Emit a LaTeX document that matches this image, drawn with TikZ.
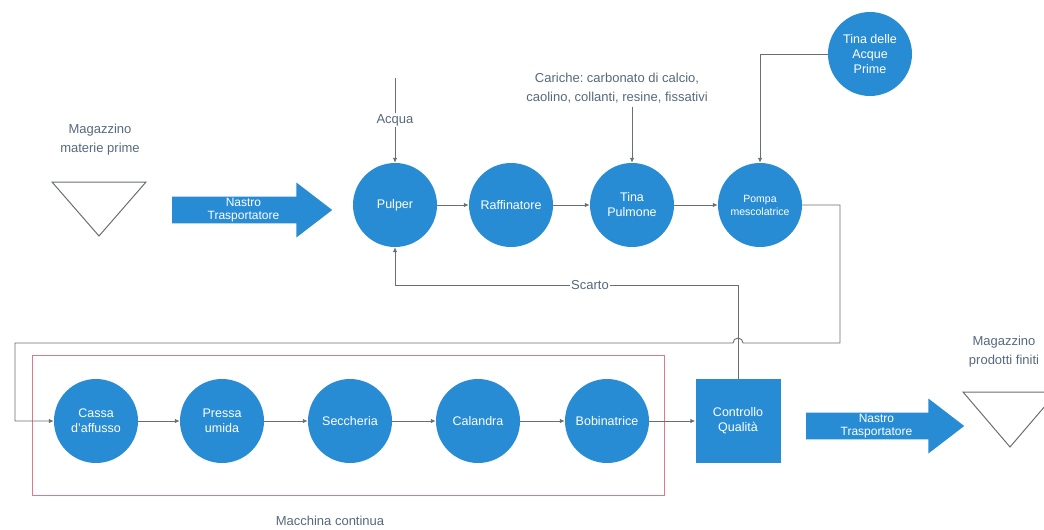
\documentclass[tikz,border=0pt]{standalone}
\usepackage{fontspec}
\setmainfont{Liberation Sans}
\usepackage{tikz}
\usetikzlibrary{
  shapes.geometric, shapes.arrows,
  arrows.meta,
  positioning, calc
}
\definecolor{procblue}{RGB}{40,140,212}
\definecolor{linegray}{RGB}{105,110,112}
\definecolor{labelgray}{RGB}{85,105,125}
\definecolor{framered}{RGB}{222,120,140}
\tikzset{
  procnode/.style={circle,fill=procblue,text=white,minimum size=84pt,inner sep=1pt,align=center,font=\fontsize{12.5}{15}\selectfont},
  smallproc/.style={procnode,font=\fontsize{10.5}{13}\selectfont},
  qcnode/.style={rectangle,fill=procblue,text=white,minimum width=85pt,minimum height=84pt,align=center,font=\fontsize{12.5}{15}\selectfont},
  beltnode/.style={single arrow,fill=procblue,text=white,align=center,minimum width=55pt,minimum height=160pt,
    single arrow head extend=13.5pt,single arrow tip angle=75,inner sep=1pt,font=\fontsize{12}{12.5}\selectfont},
  labelnode/.style={text=labelgray,align=center,font=\fontsize{13}{19}\selectfont},
  onlinelbl/.style={labelnode,fill=white,inner sep=1pt,font=\fontsize{13}{15}\selectfont},
  storeline/.style={draw=linegray,line width=1pt},
  flow/.style={-{Latex[length=5pt,width=4.5pt]},draw=linegray,line width=0.9pt},
  plainline/.style={draw=linegray,line width=0.9pt}
}
\begin{document}
\begin{tikzpicture}[x=1pt,y=-1pt]
  \useasboundingbox (0,0) rectangle (1044,530);

  % linea di preparazione dell'impasto
  \node[procnode] (pulper) at (395,205) {Pulper};
  \node[procnode] (raff) at (511,205) {Raffinatore};
  \node[procnode] (tinap) at (632,205) {Tina\\Pulmone};
  \node[smallproc] (pompa) at (760,205) {Pompa\\mescolatrice};
  \node[procnode] (tinaa) at (870,54) {Tina delle\\Acque\\Prime};

  % macchina continua
  \node[procnode] (cassa) at (96,421) {Cassa\\d'affusso};
  \node[procnode] (pressa) at (222,421) {Pressa\\umida};
  \node[procnode] (secch) at (350,421) {Seccheria};
  \node[procnode] (cal) at (478,421) {Calandra};
  \node[procnode] (bob) at (607,421) {Bobinatrice};
  \node[qcnode] (qc) at (738,421) {Controllo\\Qualità};
  \draw[framered,line width=0.9pt] (32,355) rectangle (664,495);
  \node[labelnode] (mcont) at (330,521) {Macchina continua};

  % magazzini e nastri
  \coordinate (tri1) at (99,182);
  \draw[storeline] ($(tri1)+(-47,0)$) -- ($(tri1)+(47,0)$) -- ($(tri1)+(0,54)$) -- cycle;
  \node[labelnode] (magmp) at (100,140) {Magazzino\\materie prime};
  \coordinate (tri2) at (1010,392);
  \draw[storeline] ($(tri2)+(-47,0)$) -- ($(tri2)+(47,0)$) -- ($(tri2)+(0,55)$) -- cycle;
  \node[labelnode] (magpf) at (1004,352) {Magazzino\\prodotti finiti};
  \node[beltnode,anchor=tail] (belt1) at (172,210) {Nastro\\Trasportatore};
  \node[beltnode,anchor=tail,minimum height=158pt] (belt2) at (806,426) {Nastro\\Trasportatore};

  % ingressi
  \coordinate (acqua) at (395,78);
  \draw[flow] (acqua) -- (pulper.north);
  \node[onlinelbl] (acqualbl) at (395,120) {Acqua};
  \node[labelnode] (cariche) at (617,88) {Cariche:\ carbonato di calcio,\\caolino, collanti, resine, fissativi};
  \draw[flow] (cariche.south -| tinap.north) -- (tinap.north);
  \draw[flow] (tinaa.west) -| (pompa.north);

  % collegamenti
  \draw[flow] (pulper) -- (raff);
  \draw[flow] (raff) -- (tinap);
  \draw[flow] (tinap) -- (pompa);
  \draw[flow] (pompa.east) -- (840,205) -- (840,343) -- (743,343) arc (0:-180:5) -- (15,343) |- (cassa.west);
  \draw[flow] (cassa) -- (pressa);
  \draw[flow] (pressa) -- (secch);
  \draw[flow] (secch) -- (cal);
  \draw[flow] (cal) -- (bob);
  \draw[flow] (bob) -- (qc);
  \draw[flow] (qc.north) |- (395,285) -- (pulper.south);
  \node[onlinelbl] (scarto) at (590,285) {Scarto};
\end{tikzpicture}
\end{document}
